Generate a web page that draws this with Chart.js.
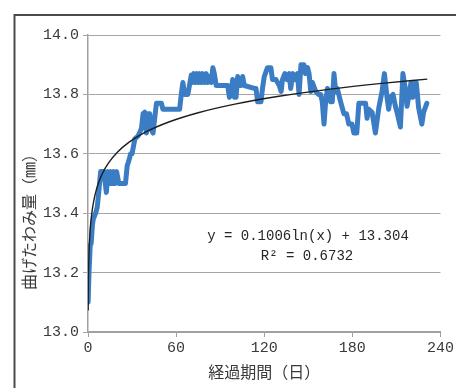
<!DOCTYPE html>
<html>
<head>
<meta charset="utf-8">
<script src="https://cdn.jsdelivr.net/npm/chart.js@4/dist/chart.umd.min.js"></script>
<style>
html,body{margin:0;padding:0;background:#fff;}
#wrap{position:relative;width:456px;height:388px;}
</style>
</head>
<body>
<div id="wrap"><canvas id="c" width="456" height="388"></canvas></div>
<script>
// ---- data ----
const days = [0.1,0.7,1.5,2.2,3.0,3.6,5.2,6.3,7.5,8.6,10.8,12.5,13.6,14.5,15.5,16.5,17.5,18.5,19.5,21,25.5,26.7,28,29,30,31.9,34.1,36.4,37.5,38.6,39.8,40.9,42,43.2,44.3,45.4,46.6,50,51,62.4,63.5,64.6,65.8,68,70.3,71,72,73,74,75,76,77,78,79.3,80.5,81.4,82.5,83.9,85,86,87.3,92.9,95.1,96.3,97.4,98.5,99.7,100.8,101.9,103.1,104.2,105.3,106.4,113.2,114.4,115.5,117.8,118.8,120,122.2,124.5,125.6,127.9,130.2,131.5,132.4,134,135.5,137,138,139.5,141,142.6,143.7,145,147,148,149.5,150.5,151.7,152.8,155,157,158.4,159.5,160.7,161.8,163,164,165.2,166.3,167.5,168.6,169.7,172,174.2,176,177.6,179.7,181,183,184.4,186.4,189,190,191.2,193.4,195.7,198,200.2,201.8,203.6,204.7,205.9,207.7,209.3,210.4,212.7,214.4,216,217.2,218.3,219.9,221.2,222.2,223.5,225.1,227.3,228.5,230.7];
const deflection = [13.10,13.20,13.29,13.30,13.36,13.38,13.40,13.42,13.48,13.54,13.54,13.47,13.54,13.50,13.54,13.50,13.54,13.50,13.54,13.50,13.50,13.56,13.58,13.60,13.60,13.65,13.66,13.685,13.735,13.74,13.67,13.735,13.735,13.68,13.67,13.72,13.77,13.77,13.75,13.75,13.80,13.84,13.80,13.80,13.865,13.84,13.87,13.84,13.87,13.84,13.87,13.84,13.87,13.84,13.87,13.84,13.86,13.84,13.89,13.87,13.83,13.83,13.83,13.79,13.80,13.85,13.79,13.79,13.86,13.83,13.83,13.86,13.83,13.82,13.82,13.775,13.775,13.82,13.86,13.89,13.89,13.85,13.85,13.83,13.81,13.85,13.87,13.85,13.87,13.82,13.87,13.85,13.87,13.80,13.90,13.90,13.87,13.89,13.87,13.81,13.84,13.81,13.80,13.80,13.775,13.70,13.775,13.82,13.80,13.775,13.775,13.87,13.81,13.82,13.775,13.735,13.735,13.70,13.70,13.67,13.67,13.77,13.77,13.77,13.72,13.75,13.74,13.67,13.755,13.81,13.87,13.79,13.75,13.79,13.80,13.76,13.74,13.69,13.87,13.82,13.76,13.79,13.84,13.79,13.84,13.84,13.755,13.70,13.74,13.77];

// trendline as printed on the chart: y = 0.1006 ln(x) + 13.304
const TREND_A = 0.1006;
const TREND_B = 13.304;
const trendDays = [0.1,0.15,0.2,0.3,0.45,0.7,1,1.5,2,3,4,5,7,10,14,20,28,40,55,75,100,130,165,200,231];
const trendText = ['y = 0.1006ln(x) + 13.304', 'R\u00B2 = 0.6732'];

const xTicks = [0, 60, 120, 180, 240];
const yTicks = [13.0, 13.2, 13.4, 13.6, 13.8, 14.0];
const xTitle = '経過期間（日）';
const yTitle = '曲げたわみ量（㎜）';

const seriesPts = days.map((d, i) => ({x: d, y: deflection[i]}));
const trendPts = trendDays.map(d => ({x: d, y: TREND_A * Math.log(d) + TREND_B}));

const TXT = '#3a3a3a';
const MONO = '"Liberation Mono", "DejaVu Sans Mono", monospace';
const JP = '"Noto Sans CJK JP", sans-serif';

const decor = {
  id: 'decor',
  beforeDraw(chart) {
    const ctx = chart.ctx;
    ctx.save();
    ctx.strokeStyle = '#4a4a4a';
    ctx.lineWidth = 2;
    ctx.beginPath();
    ctx.moveTo(14.5, 388);
    ctx.lineTo(14.5, 15);
    ctx.lineTo(456, 15);
    ctx.stroke();
    ctx.restore();
  },
  afterDraw(chart) {
    const ctx = chart.ctx;
    ctx.save();
    // y axis title
    ctx.fillStyle = TXT;
    ctx.font = '16px ' + JP;
    ctx.textAlign = 'center';
    ctx.textBaseline = 'middle';
    ctx.translate(29, 218);
    ctx.rotate(-Math.PI / 2);
    ctx.fillText(yTitle, 0, 0);
    ctx.restore();
    // equation
    ctx.save();
    ctx.fillStyle = '#262626';
    ctx.font = '14px ' + MONO;
    ctx.textAlign = 'center';
    ctx.textBaseline = 'middle';
    ctx.fillText(trendText[0], 308, 236);
    ctx.fillText(trendText[1], 307, 256);
    ctx.restore();
  }
};

new Chart(document.getElementById('c'), {
  type: 'scatter',
  data: {
    datasets: [
      {
        label: 'trend',
        data: trendPts,
        showLine: true,
        borderColor: '#1e1e1e',
        borderWidth: 1.4,
        pointRadius: 0,
        tension: 0.4,
        cubicInterpolationMode: 'monotone',
        order: 0
      },
      {
        label: '曲げたわみ量',
        data: seriesPts,
        showLine: true,
        borderColor: 'rgb(59,125,196)',
        borderWidth: 5,
        borderJoinStyle: 'round',
        borderCapStyle: 'round',
        pointRadius: 0,
        tension: 0,
        order: 1
      }
    ]
  },
  options: {
    responsive: false,
    animation: false,
    devicePixelRatio: 1,
    layout: {padding: {left: 0, right: 14, top: 35, bottom: 0}},
    plugins: {legend: {display: false}, tooltip: {enabled: false}},
    scales: {
      x: {
        type: 'linear',
        min: 0, max: 240,
        afterBuildTicks: s => { s.ticks = xTicks.map(v => ({value: v})); },
        ticks: {color: TXT, font: {family: MONO, size: 15}, padding: 2, maxRotation: 0},
        grid: {drawOnChartArea: false, drawTicks: true, tickLength: 5, color: '#a0a0a0', lineWidth: 1},
        border: {color: '#a0a0a0', width: 2},
        title: {display: true, text: xTitle, color: TXT, font: {family: JP, size: 16}, padding: {top: 0, bottom: 6}},
        afterFit: s => { s.height = 56; }
      },
      y: {
        type: 'linear',
        min: 13.0, max: 14.0,
        afterBuildTicks: s => { s.ticks = yTicks.map(v => ({value: v})); },
        ticks: {color: TXT, font: {family: MONO, size: 15}, padding: 4, callback: v => v.toFixed(1)},
        grid: {color: '#a6a6a6', lineWidth: 1, drawTicks: true, tickLength: 5},
        border: {color: '#a0a0a0', width: 1.5},
        afterFit: s => { s.width = 88; }
      }
    }
  },
  plugins: [decor]
});
</script>
</body>
</html>
